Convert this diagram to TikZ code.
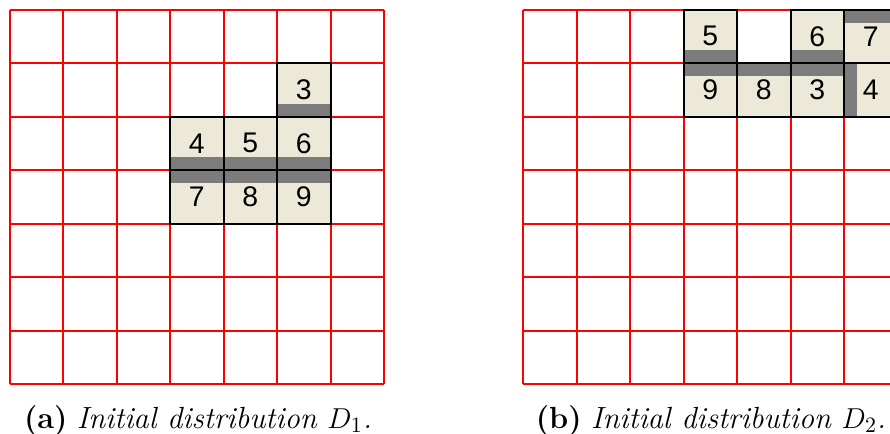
\documentclass[tikz,border=0pt]{standalone}
\usepackage{fontspec}
\newfontfamily\tilefont{Liberation Sans}
\usetikzlibrary{positioning}
\definecolor{gridred}{HTML}{FF0000}
\definecolor{tilebeige}{HTML}{ECE9D8}
\definecolor{bargrey}{HTML}{7C7C7C}
\newcommand{\cellpx}{53.5}
\tikzset{
  gridline/.style = {draw=gridred, line width=1pt},
  tile/.style     = {draw=black, line width=1pt, fill=tilebeige, minimum size=26.75pt,
                     inner sep=0pt, font=\tilefont\fontsize{14.2}{16}\selectfont},
  bartop/.style   = {tile, path picture={\fill[bargrey] (path picture bounding box.north west)
                     rectangle ([yshift=-6.5pt]path picture bounding box.north east);}},
  barbot/.style   = {tile, path picture={\fill[bargrey] (path picture bounding box.south west)
                     rectangle ([yshift=6.5pt]path picture bounding box.south east);}},
  barleft/.style  = {tile, path picture={\fill[bargrey] (path picture bounding box.south west)
                     rectangle ([xshift=6.5pt]path picture bounding box.north west);}},
  captext/.style  = {anchor=base, inner sep=0pt, font=\fontsize{15.3}{18}\selectfont},
}

\begin{document}
\begin{tikzpicture}[x=0.5pt,y=-0.5pt]
    \clip (0,0) rectangle (890,434);
    % the two boards
    \foreach \ox in {9.5,523} {
      \foreach \i in {0,...,7} {
        \draw[gridline] ({\ox+\i*\cellpx},9.5) -- ({\ox+\i*\cellpx},384);
        \draw[gridline] (\ox,{9.5+\i*\cellpx}) -- ({\ox+7*\cellpx},{9.5+\i*\cellpx});
      }
    }
    % D1
    \foreach \c/\r/\n/\s in {5/1/3/barbot, 3/2/4/barbot, 4/2/5/barbot, 5/2/6/barbot,
                             3/3/7/bartop, 4/3/8/bartop, 5/3/9/bartop}
      \node[\s] (a\n) at ({9.5+(\c+0.5)*\cellpx},{9.5+(\r+0.5)*\cellpx}) {\n};
    % D2
    \foreach \c/\r/\n/\s in {3/0/5/barbot, 5/0/6/barbot, 6/0/7/bartop,
                             3/1/9/bartop, 4/1/8/bartop, 5/1/3/bartop, 6/1/4/barleft}
      \node[\s] (b\n) at ({523+(\c+0.5)*\cellpx},{9.5+(\r+0.5)*\cellpx}) {\n};
    \node[captext] (capa) at (198,428) {\textbf{(a)} \textit{Initial distribution $D_1$.}};
    \node[captext] (capb) at (711,428) {\textbf{(b)} \textit{Initial distribution $D_2$.}};
\end{tikzpicture}
\end{document}
